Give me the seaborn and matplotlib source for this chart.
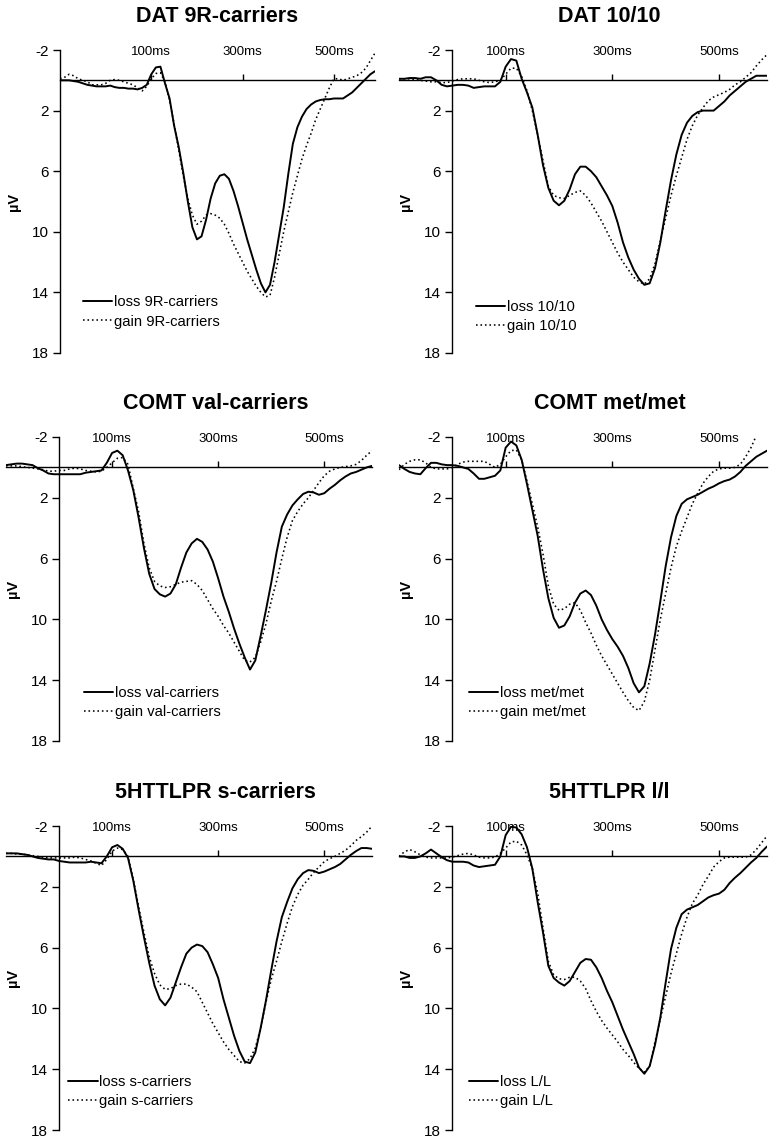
import matplotlib
matplotlib.use('Agg')
import matplotlib.pyplot as plt
import seaborn as sns

# time axis in ms, shared by all waveforms
times = list(range(-100, 600, 10))

titles = ['DAT 9R-carriers', 'DAT 10/10', 'COMT val-carriers',
          'COMT met/met', '5HTTLPR s-carriers', '5HTTLPR l/l']
loss_labels = ['loss 9R-carriers', 'loss 10/10', 'loss val-carriers',
               'loss met/met', 'loss s-carriers', 'loss L/L']
gain_labels = ['gain 9R-carriers', 'gain 10/10', 'gain val-carriers',
               'gain met/met', 'gain s-carriers', 'gain L/L']
xtick_vals = [100, 300, 500]
xtick_labels = ['100ms', '300ms', '500ms']
ytick_vals = [-2, 2, 6, 10, 14, 18]

dat9r_loss = [0, 0, 0, 0.05, 0.1, 0.2, 0.3, 0.35, 0.4, 0.4,
              0.4, 0.35, 0.45, 0.5, 0.5, 0.55, 0.55, 0.6, 0.5, 0.3,
              -0.4, -0.85, -0.9, 0.2, 1.2, 3.0, 4.4, 6.1, 8.0, 9.7,
              10.5, 10.3, 9.2, 7.8, 6.8, 6.3, 6.2, 6.5, 7.3, 8.3,
              9.4, 10.5, 11.5, 12.5, 13.4, 14.0, 13.5, 12.0, 10.2, 8.4,
              6.2, 4.2, 3.1, 2.4, 1.9, 1.6, 1.4, 1.3, 1.25, 1.25,
              1.2, 1.2, 1.2, 1.0, 0.8, 0.5, 0.2, -0.1, -0.4, -0.6]
dat9r_gain = [-0.1, -0.2, -0.4, -0.3, -0.1, 0.0, 0.1, 0.3, 0.3, 0.3,
              0.2, 0.0, -0.05, 0.0, 0.1, 0.2, 0.3, 0.5, 0.7, 0.4,
              -0.1, -0.45, -0.5, 0.1, 1.3, 2.9, 4.6, 6.3, 7.8, 8.9,
              9.5, 9.3, 8.9, 8.8, 8.9, 9.1, 9.5, 10.1, 10.8, 11.4,
              12.0, 12.6, 13.1, 13.6, 14.0, 14.3, 14.2, 13.0, 11.5, 10.0,
              8.7, 7.4, 6.3, 5.2, 4.3, 3.5, 2.6, 1.9, 1.2, 0.5,
              -0.1, -0.1, 0.0, -0.1, -0.2, -0.3, -0.5, -0.8, -1.3, -1.8]

dat1010_loss = [-0.1, -0.1, -0.15, -0.15, -0.1, -0.2, -0.2, 0.0, 0.3, 0.4,
                0.35, 0.3, 0.3, 0.35, 0.5, 0.45, 0.4, 0.4, 0.4, 0.1,
                -0.9, -1.4, -1.3, -0.1, 0.8, 1.8, 3.6, 5.6, 7.1, 7.95,
                8.25, 7.95, 7.2, 6.2, 5.7, 5.7, 6.0, 6.4, 7.0, 7.6,
                8.3, 9.4, 10.7, 11.7, 12.5, 13.1, 13.5, 13.4, 12.4, 10.7,
                8.6, 6.6, 4.9, 3.6, 2.8, 2.35, 2.1, 2.0, 2.0, 2.0,
                1.7, 1.4, 1.0, 0.7, 0.4, 0.1, -0.1, -0.3, -0.3, -0.3]
dat1010_gain = [-0.1, -0.1, -0.1, -0.05, 0.0, 0.05, 0.1, 0.1, 0.15, 0.15,
                0.05, -0.05, -0.1, -0.1, -0.1, 0.0, 0.1, 0.15, 0.1, 0.0,
                -0.4, -0.8, -0.8, -0.25, 0.7, 2.0, 3.6, 5.3, 7.0, 7.6,
                7.75, 7.8, 7.6, 7.4, 7.3, 7.6, 8.1, 8.7, 9.3, 10.0,
                10.7, 11.4, 12.0, 12.5, 13.0, 13.3, 13.45, 13.1, 12.1, 10.6,
                9.1, 7.6, 6.3, 5.1, 3.9, 3.0, 2.3, 1.8, 1.35, 1.1,
                0.95, 0.8, 0.6, 0.3, 0.1, -0.2, -0.5, -0.95, -1.35, -1.7]

val_loss = [-0.15, -0.2, -0.25, -0.25, -0.2, -0.15, 0.05, 0.2, 0.4, 0.45,
            0.45, 0.45, 0.45, 0.45, 0.45, 0.35, 0.3, 0.25, 0.2, -0.3,
            -0.95, -1.1, -0.8, 0.2, 1.5, 3.3, 5.3, 7.0, 8.0, 8.35,
            8.5, 8.3, 7.7, 6.6, 5.6, 5.0, 4.7, 4.9, 5.4, 6.2,
            7.3, 8.5, 9.5, 10.6, 11.6, 12.5, 13.3, 12.7, 11.1, 9.4,
            7.6, 5.6, 3.9, 3.1, 2.5, 2.1, 1.75, 1.6, 1.65, 1.8,
            1.7, 1.4, 1.15, 0.85, 0.6, 0.4, 0.3, 0.15, 0.0, -0.1]
val_gain = [-0.1, -0.1, -0.1, -0.05, 0.0, 0.05, 0.1, 0.15, 0.25, 0.25,
            0.2, 0.2, 0.1, 0.05, 0.1, 0.2, 0.25, 0.3, 0.25, 0.0,
            -0.3, -0.6, -0.65, -0.2, 1.4, 2.9, 5.0, 6.6, 7.5, 7.8,
            7.9, 7.85, 7.7, 7.55, 7.5, 7.45, 7.7, 8.1, 8.7, 9.3,
            9.8, 10.4, 10.9, 11.5, 12.1, 12.7, 12.8, 12.5, 11.5, 10.3,
            8.8, 7.5, 6.0, 4.6, 3.5, 2.9, 2.4, 2.0, 1.5, 1.0,
            0.55, 0.25, 0.1, 0.0, -0.05, -0.1, -0.2, -0.45, -0.8, -1.1]

met_loss = [-0.15, 0.1, 0.3, 0.4, 0.45, 0.05, -0.3, -0.3, -0.2, -0.15,
            -0.15, -0.1, 0.0, 0.1, 0.4, 0.75, 0.75, 0.65, 0.55, 0.2,
            -1.3, -1.7, -1.45, -0.5, 1.1, 2.8, 4.5, 6.7, 8.6, 9.9,
            10.55, 10.4, 9.8, 8.9, 8.3, 8.1, 8.4, 9.1, 10.0, 10.7,
            11.3, 11.8, 12.4, 13.2, 14.2, 14.8, 14.4, 12.9, 11.0, 8.8,
            6.5, 4.6, 3.2, 2.4, 2.1, 1.95, 1.8, 1.6, 1.4, 1.25,
            1.05, 0.9, 0.8, 0.6, 0.3, -0.1, -0.4, -0.7, -0.9, -1.1]
met_gain = [0.15, -0.2, -0.4, -0.5, -0.5, -0.3, 0.0, 0.1, 0.1, 0.1,
            0.0, -0.2, -0.35, -0.4, -0.4, -0.4, -0.4, -0.2, 0.0, -0.2,
            -0.7, -1.1, -1.15, -0.5, 0.9, 2.4, 3.9, 5.7, 7.8, 9.0,
            9.4, 9.3, 9.0, 8.9, 9.4, 10.2, 10.9, 11.7, 12.4, 13.0,
            13.6, 14.2, 14.8, 15.35, 15.8, 16.0, 15.4, 14.0, 12.0, 10.0,
            8.3, 6.6, 5.2, 4.2, 3.3, 2.4, 1.7, 1.05, 0.6, 0.25,
            0.1, 0.05, 0.05, 0.0, -0.2, -0.7, -1.3, -2.1, -2.6, -3.0]

s_loss = [-0.2, -0.2, -0.2, -0.15, -0.1, 0.0, 0.1, 0.15, 0.2, 0.2,
          0.3, 0.35, 0.4, 0.4, 0.4, 0.4, 0.35, 0.4, 0.45, 0.0,
          -0.6, -0.75, -0.5, 0.1, 1.6, 3.5, 5.3, 7.0, 8.5, 9.4,
          9.8, 9.3, 8.3, 7.3, 6.4, 6.0, 5.8, 5.9, 6.3, 7.1,
          8.0, 9.4, 10.6, 11.8, 12.8, 13.5, 13.6, 12.9, 11.3, 9.5,
          7.5, 5.6, 4.0, 3.0, 2.1, 1.5, 1.1, 0.9, 0.95, 1.1,
          1.0, 0.85, 0.7, 0.5, 0.2, -0.1, -0.35, -0.55, -0.55, -0.5]
s_gain = [-0.2, -0.2, -0.15, -0.15, -0.1, -0.05, 0.0, 0.05, 0.1, 0.1,
          0.1, 0.1, 0.1, 0.05, 0.1, 0.2, 0.3, 0.45, 0.6, 0.2,
          -0.35, -0.55, -0.45, 0.0, 1.5, 3.3, 5.0, 6.6, 7.7, 8.45,
          8.75, 8.7, 8.5, 8.4, 8.4, 8.6, 8.9, 9.6, 10.3, 11.0,
          11.6, 12.2, 12.7, 13.1, 13.5, 13.6, 13.3, 12.6, 11.3, 9.6,
          8.1, 6.9, 5.6, 4.4, 3.3, 2.5, 1.9, 1.5, 1.05, 0.7,
          0.35, 0.15, 0.0, -0.2, -0.4, -0.7, -1.05, -1.3, -1.6, -2.0]

ll_loss = [0.0, 0.0, 0.1, 0.1, 0.0, -0.2, -0.45, -0.2, 0.05, 0.25,
           0.35, 0.35, 0.35, 0.4, 0.6, 0.7, 0.65, 0.6, 0.55, 0.0,
           -1.4, -1.95, -1.9, -1.45, -0.6, 0.8, 3.0, 5.0, 7.2, 8.0,
           8.3, 8.5, 8.2, 7.6, 7.0, 6.75, 6.8, 7.3, 8.0, 8.85,
           9.6, 10.5, 11.4, 12.2, 13.0, 13.9, 14.3, 13.8, 12.4, 10.6,
           8.3, 6.1, 4.7, 3.8, 3.5, 3.35, 3.2, 2.95, 2.7, 2.55,
           2.45, 2.2, 1.75, 1.4, 1.1, 0.75, 0.4, 0.1, -0.3, -0.65]
ll_gain = [0.0, -0.3, -0.45, -0.3, -0.1, 0.05, 0.1, 0.1, 0.1, 0.1,
           0.05, -0.05, -0.15, -0.2, -0.1, 0.05, 0.1, 0.1, 0.05, -0.2,
           -0.55, -0.95, -1.0, -0.75, -0.1, 0.8, 2.4, 4.7, 6.9, 7.8,
           8.05, 8.1, 7.95, 7.95, 8.2, 8.7, 9.5, 10.2, 10.8, 11.3,
           11.75, 12.2, 12.7, 13.1, 13.55, 13.95, 14.2, 13.8, 12.2, 10.7,
           9.2, 7.7, 6.4, 5.1, 4.0, 3.1, 2.55, 1.85, 1.3, 0.7,
           0.35, 0.1, 0.05, 0.05, 0.05, 0.05, -0.1, -0.45, -0.9, -1.35]

losses = [dat9r_loss, dat1010_loss, val_loss, met_loss, s_loss, ll_loss]
gains = [dat9r_gain, dat1010_gain, val_gain, met_gain, s_gain, ll_gain]

# layout in pixels of the 777x1140 picture: (left, right, top, bottom)
W, H = 777, 1140
rects = [(60, 375, 50, 353), (399, 767, 50, 353),
         (6, 372, 437, 741), (399, 767, 437, 741),
         (6, 372, 826, 1130), (399, 767, 826, 1130)]
# where the y axis crosses the time axis (ms)
spine_at = [-100, 0, 0, 0, 0, 0]
# legend upper-left corner in data units (ms, uV)
legend_at = [(-50, 14.2), (44, 14.5), (47, 14.4), (31, 14.4), (17, 14.4), (31, 14.4)]

sns.set_style('ticks')
plt.rcParams['font.family'] = ['Liberation Sans', 'DejaVu Sans']
plt.rcParams['axes.unicode_minus'] = False
plt.rcParams['text.color'] = 'black'
plt.rcParams['axes.labelcolor'] = 'black'

fig = plt.figure(figsize=(W / 100, H / 100), dpi=100)
xmin, xmax = -100, 590

for i in range(6):
    l, r, t, b = rects[i]
    ax = fig.add_axes([l / W, 1 - b / H, (r - l) / W, (b - t) / H])
    sns.lineplot(x=times, y=losses[i], ax=ax, color='black', linewidth=1.4,
                 label=loss_labels[i])
    sns.lineplot(x=times, y=gains[i], ax=ax, color='black', linewidth=1.15,
                 linestyle=(0, (1, 1.8)), label=gain_labels[i])

    ax.set_xlim(xmin, xmax)
    ax.set_ylim(18, -2)

    # time axis drawn as a line at 0 uV, labels above it
    ax.xaxis.tick_top()
    ax.spines['top'].set_position(('data', 0))
    ax.spines['bottom'].set_visible(False)
    ax.spines['right'].set_visible(False)
    if spine_at[i] != xmin:
        ax.spines['left'].set_position(('data', spine_at[i]))
    for s in ['top', 'left']:
        ax.spines[s].set_linewidth(1.0)
        ax.spines[s].set_color('black')

    ax.set_xticks(xtick_vals)
    ax.set_xticklabels(xtick_labels)
    ax.tick_params(axis='x', direction='out', length=4, width=1, pad=12,
                   labelsize=9.5, colors='black')
    ax.set_yticks(ytick_vals)
    ax.tick_params(axis='y', direction='out', length=5, width=1, pad=3,
                   labelsize=11, colors='black')
    ax.set_xlabel('')
    ax.set_ylabel('µV', fontsize=10.5, fontweight='bold', labelpad=8)

    tx = ((spine_at[i] + xmax) / 2 - xmin) / (xmax - xmin)
    ax.set_title(titles[i], fontsize=15.5, fontweight='bold', color='black',
                 x=tx, y=1.0, pad=20)

    ax.legend(loc='upper left', bbox_to_anchor=legend_at[i], bbox_transform=ax.transData,
              frameon=False, fontsize=10.6, handlelength=2.0, handletextpad=0.12,
              labelspacing=0.35, borderpad=0, borderaxespad=0)

fig.savefig('out.png', dpi=100)
